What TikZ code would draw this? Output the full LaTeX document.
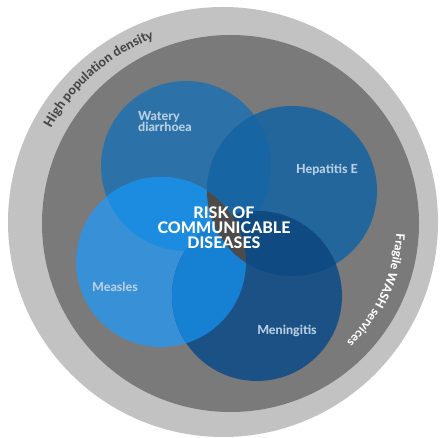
\documentclass[tikz,border=0pt]{standalone}
\usepackage{fontspec}
\setmainfont{Lato}
\IfFontExistsTF{Lato Heavy}
  {\newfontfamily\heavy{Lato Heavy}}
  {\newfontfamily\heavy{Lato}[UprightFont=*-Bold, FakeBold=1.2]}
\usetikzlibrary{decorations.text}
\definecolor{lightring}{HTML}{C2C2C2}
\definecolor{ring}{HTML}{7A7A7A}
\definecolor{cW}{HTML}{2C72A8}
\definecolor{cH}{HTML}{23669B}
\definecolor{cM}{HTML}{3891D6}
\definecolor{cN}{HTML}{1B5184}
\definecolor{cWH}{HTML}{1765A3}
\definecolor{cWM}{HTML}{1B8CE0}
\definecolor{cMN}{HTML}{1680D2}
\definecolor{cHN}{HTML}{0F4A82}
\definecolor{lens}{HTML}{4B4B4B}
\definecolor{labeltext}{HTML}{B8CFE3}
\definecolor{hptext}{HTML}{474747}
\newcommand\hpfont{\fontsize{13}{13}\selectfont\heavy\color{hptext}}
\newcommand\washfont{\fontsize{12}{12}\selectfont\heavy\color{white}}
\tikzset{
  disease/.style={text=labeltext, font=\fontsize{12.5}{11.5}\selectfont\heavy, inner sep=0pt},
  centre/.style={text=white, font=\fontsize{16}{15}\selectfont\heavy, align=center, inner sep=0pt}
}
\begin{document}
\begin{tikzpicture}[x=1pt,y=1pt]
\useasboundingbox (0,0) rectangle (441,438);
\fill[white] (0,0) rectangle (441,438);
\coordinate (oc) at (223,216);
\coordinate (dc) at (230.5,214.5);
\fill[lightring] (oc) circle[radius=215];
\fill[ring] (dc) circle[radius=188.5];
% disease circles
\fill[cW] (186,272) circle[radius=85];
\fill[cH] (292,247) circle[radius=85];
\fill[cM] (161,176) circle[radius=85];
\fill[cN] (257,142) circle[radius=85];
\begin{scope}
  \clip (186,272) circle[radius=85];
  \fill[cWH] (292,247) circle[radius=85];
  \fill[cWM] (161,176) circle[radius=85];
\end{scope}
\begin{scope}
  \clip (161,176) circle[radius=85];
  \fill[cMN] (257,142) circle[radius=85];
\end{scope}
\begin{scope}
  \clip (292,247) circle[radius=85];
  \fill[cHN] (257,142) circle[radius=85];
\end{scope}
\begin{scope}
  \clip (161,176) circle[radius=85];
  \fill[lens] (292,247) circle[radius=85];
\end{scope}
% labels
\node[disease, align=left, anchor=north west] (watery) at (138,327) {Watery\\diarrhoea};
\node[disease] (hep) at (327,268) {Hepatitis E};
\node[disease] (measles) at (115,151) {Measles};
\node[disease] (men) at (287,107) {Meningitis};
\node[centre] (risk) at (224,210) {RISK OF\\COMMUNICABLE\\DISEASES};
% curved texts
\path[decorate, decoration={text along path, text align=center,
  text={|\hpfont|High population density}}]
  ([shift={(163:196)}]oc) arc[start angle=163, end angle=99, radius=196];
\path[decorate, decoration={text along path, text align=center,
  text={|\washfont|Fragile WASH services}}]
  ([shift={(21:166)}]dc) arc[start angle=21, end angle=-70, radius=166];
\end{tikzpicture}
\end{document}
